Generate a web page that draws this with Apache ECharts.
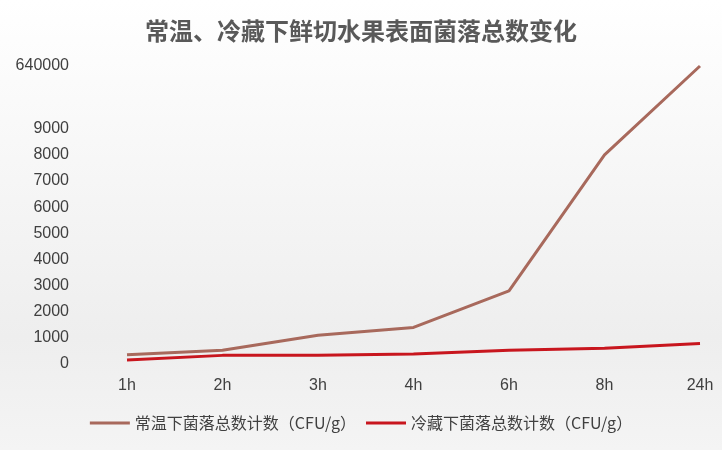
<!DOCTYPE html>
<html>
<head>
<meta charset="utf-8">
<script src="https://cdn.jsdelivr.net/npm/echarts@6/dist/echarts.min.js"></script>
<style>
  html, body { margin: 0; padding: 0; }
  #chart { width: 722px; height: 450px; background: linear-gradient(#ffffff 0%, #f6f6f6 40%, #eeeeee 75%, #f4f4f4 100%); }
</style>
</head>
<body>
<div id="chart"></div>
<script>
const categories = ['1h', '2h', '3h', '4h', '6h', '8h', '24h'];
const roomTemp = [350, 530, 1100, 1400, 2800, 8000, 640000];
const chilled = [150, 330, 330, 380, 530, 600, 780];
const seriesNames = ['常温下菌落总数计数（CFU/g）', '冷藏下菌落总数计数（CFU/g）'];

const chart = echarts.init(document.getElementById('chart'));
chart.setOption({
  title: {
    text: '常温、冷藏下鲜切水果表面菌落总数变化',
    left: 'center',
    top: 14,
    textStyle: { fontSize: 24, fontWeight: 'bold', color: '#595959', fontFamily: 'Noto Sans CJK SC' }
  },
  legend: {
    bottom: 14,
    itemWidth: 40,
    itemHeight: 3,
    itemGap: 10,
    icon: 'rect',
    textStyle: { fontSize: 16, color: '#404040', fontFamily: 'Noto Sans CJK SC' },
    data: seriesNames
  },
  grid: { left: 127, right: 22, top: 66, bottom: 86 },
  xAxis: {
    type: 'category',
    data: categories,
    boundaryGap: false,
    axisLine: { show: false },
    axisTick: { show: false },
    axisLabel: { fontSize: 16, color: '#404040', margin: 14 }
  },
  yAxis: {
    type: 'value',
    min: 0,
    max: 640000,
    interval: 1000,
    breaks: [{ start: 9000, end: 640000, gap: 2400 }],
    breakArea: { show: false },
    splitLine: { show: false },
    axisLine: { show: false },
    axisTick: { show: false },
    axisLabel: {
      fontSize: 16,
      color: '#404040',
      margin: 58,
      showMaxLabel: true,
      formatter: function (v) {
        if (v === 640000) return '640000';
        if (v <= 9000 && v % 1000 === 0) return String(v);
        return '';
      }
    }
  },
  series: [
    {
      name: seriesNames[0],
      type: 'line',
      data: roomTemp,
      symbol: 'none',
      lineStyle: { width: 3, color: '#A8695C' },
      itemStyle: { color: '#A8695C' }
    },
    {
      name: seriesNames[1],
      type: 'line',
      data: chilled,
      symbol: 'none',
      lineStyle: { width: 3, color: '#C8161E' },
      itemStyle: { color: '#C8161E' }
    }
  ]
});
</script>
</body>
</html>
